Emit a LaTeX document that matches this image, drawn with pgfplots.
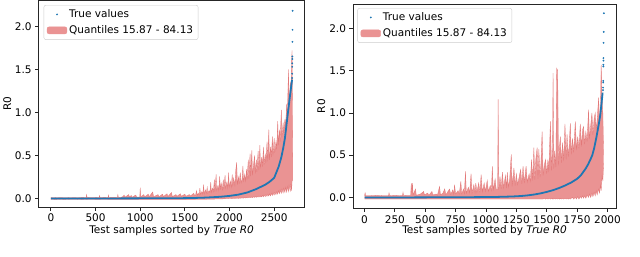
\documentclass[border=0pt]{standalone}
\usepackage{pgfplots}
\pgfplotsset{compat=1.18}
\usepackage{pgfplotstable}
\usepgfplotslibrary{fillbetween}
\usepackage{fontspec}
\setmainfont{DejaVu Sans}
\definecolor{tabblue}{RGB}{31,119,180}
\definecolor{band}{RGB}{234,147,147}
\definecolor{bandedge}{RGB}{226,120,120}
\definecolor{legframe}{RGB}{204,204,204}

% ---------- left panel: quantile band ----------
\pgfplotstableread{
x lo hi
0 -0.012 0.012
50 -0.010 0.010
100 -0.012 0.012
150 -0.010 0.011
200 -0.012 0.010
250 -0.011 0.012
300 -0.012 0.011
350 -0.010 0.013
395 -0.012 0.012
400 -0.012 0.045
405 -0.012 0.012
450 -0.011 0.014
500 -0.012 0.013
540 -0.012 0.012
545 -0.012 0.035
550 -0.012 0.013
600 -0.011 0.015
640 -0.012 0.013
645 -0.012 0.038
650 -0.012 0.014
700 -0.012 0.015
745 -0.012 0.014
750 -0.012 0.045
755 -0.012 0.014
800 -0.012 0.016
820 -0.012 0.040
830 -0.012 0.015
870 -0.012 0.045
880 -0.012 0.016
900 -0.012 0.035
910 -0.012 0.015
950 -0.012 0.040
960 -0.012 0.016
995 -0.012 0.016
1000 -0.012 0.125
1005 -0.012 0.018
1040 -0.012 0.045
1050 -0.012 0.018
1090 -0.012 0.050
1100 -0.012 0.020
1140 -0.012 0.075
1150 -0.012 0.020
1200 -0.012 0.045
1210 -0.012 0.020
1250 -0.012 0.050
1260 -0.012 0.022
1300 -0.012 0.055
1310 -0.012 0.022
1350 -0.012 0.070
1360 -0.012 0.022
1400 -0.012 0.045
1410 -0.012 0.024
1450 -0.012 0.055
1460 -0.012 0.025
1500 -0.012 0.050
1510 -0.012 0.026
1550 -0.012 0.045
1560 -0.012 0.028
1600 -0.012 0.060
1610 -0.012 0.030
1620 -0.010 0.04
1630 -0.010 0.09
1640 -0.010 0.035
1650 -0.010 0.06
1660 -0.010 0.04
1668 -0.010 0.12
1675 -0.010 0.045
1690 -0.010 0.08
1700 -0.010 0.05
1710 -0.010 0.16
1716 -0.010 0.05
1730 -0.010 0.10
1740 -0.010 0.06
1750 -0.008 0.13
1756 -0.008 0.06
1770 -0.008 0.09
1780 -0.008 0.07
1790 -0.008 0.19
1796 -0.008 0.07
1810 -0.008 0.12
1820 -0.008 0.08
1830 -0.008 0.22
1836 -0.006 0.08
1850 -0.006 0.28
1856 -0.006 0.09
1870 -0.006 0.15
1880 -0.006 0.09
1890 -0.006 0.26
1896 -0.005 0.10
1906 -0.005 0.18
1920 -0.005 0.10
1930 -0.004 0.22
1936 -0.004 0.11
1950 -0.004 0.27
1956 -0.003 0.12
1970 -0.003 0.19
1980 -0.002 0.12
1990 -0.002 0.30
1996 0.000 0.13
2010 0.000 0.20
2020 -0.002 0.13
2030 0.002 0.28
2036 0.000 0.14
2046 0.003 0.24
2060 0.000 0.15
2070 0.004 0.33
2080 0.002 0.42
2088 0.004 0.16
2100 0.000 0.25
2108 0.006 0.17
2120 0.002 0.30
2130 0.008 0.18
2140 0.003 0.22
2150 0.010 0.38
2156 0.004 0.19
2170 0.010 0.28
2180 0.005 0.20
2190 0.012 0.34
2196 0.006 0.22
2210 0.014 0.45
2216 0.008 0.23
2230 0.016 0.52
2236 0.010 0.26
2250 0.018 0.56
2256 0.010 0.27
2270 0.020 0.40
2280 0.012 0.50
2288 0.022 0.29
2300 0.012 0.45
2306 0.025 0.31
2320 0.015 0.55
2328 0.028 0.33
2340 0.016 0.62
2346 0.030 0.35
2360 0.018 0.48
2368 0.035 0.37
2380 0.020 0.60
2386 0.040 0.39
2400 0.022 0.52
2406 0.045 0.41
2420 0.025 0.66
2428 0.050 0.43
2440 0.028 0.80
2446 0.055 0.45
2460 0.030 0.60
2468 0.060 0.48
2480 0.035 0.72
2486 0.065 0.50
2500 0.040 0.70
2506 0.070 0.53
2520 0.045 0.66
2528 0.080 0.57
2540 0.050 0.90
2546 0.090 0.62
2560 0.055 0.80
2566 0.100 0.66
2580 0.060 1.03
2586 0.110 0.71
2600 0.065 0.88
2606 0.120 0.76
2620 0.070 0.92
2626 0.130 0.82
2640 0.075 1.10
2646 0.140 0.92
2660 0.080 1.50
2666 0.150 1.05
2680 0.085 1.35
2686 0.170 1.20
2695 0.090 1.60
2700 0.200 1.72
2708 0.220 0.48
}\leftband

% ---------- left panel: true values ----------
\pgfplotstableread{
x y
0 0.000
400 0.000
800 0.001
1200 0.002
1500 0.004
1600 0.006
1700 0.009
1800 0.014
1900 0.020
2000 0.030
2100 0.045
2200 0.070
2300 0.110
2400 0.160
2450 0.195
2500 0.240
2550 0.370
2580 0.480
2600 0.580
2620 0.700
2645 0.920
2660 1.050
2675 1.180
2690 1.300
2700 1.380
}\lefttrue

\pgfplotstableread{
x y
2700 1.40
2701 1.45
2702 1.53
2702 1.57
2703 1.62
2703 1.65
2704 1.82
2705 1.96
2706 2.18
}\lefttail

% ---------- right panel: quantile band ----------
\pgfplotstableread{
x lo hi
0 -0.02 0.02
5 -0.02 0.055
10 -0.02 0.02
50 -0.02 0.02
100 -0.02 0.025
150 -0.02 0.02
198 -0.02 0.02
202 -0.02 0.055
206 -0.02 0.02
250 -0.02 0.025
313 -0.02 0.02
317 -0.02 0.06
321 -0.02 0.022
350 -0.02 0.025
380 -0.02 0.025
385 -0.02 0.17
390 -0.02 0.05
395 -0.02 0.17
400 -0.02 0.03
420 -0.02 0.10
426 -0.02 0.025
460 -0.02 0.04
487 -0.02 0.07
493 -0.02 0.03
520 -0.02 0.05
530 -0.02 0.025
555 -0.02 0.07
562 -0.02 0.03
590 -0.02 0.04
600 -0.02 0.025
618 -0.02 0.13
625 -0.02 0.03
645 -0.02 0.05
660 -0.02 0.10
670 -0.02 0.03
700 -0.02 0.10
710 -0.02 0.035
727 -0.02 0.09
735 -0.02 0.035
741 -0.02 0.15
750 -0.02 0.04
770 -0.02 0.08
780 -0.02 0.04
793 -0.02 0.19
800 -0.02 0.04
815 -0.02 0.10
822 -0.02 0.045
831 -0.02 0.31
838 -0.02 0.05
855 -0.02 0.12
865 -0.02 0.05
877 -0.02 0.28
885 -0.02 0.05
900 -0.02 0.15
910 -0.02 0.055
916 -0.02 0.17
925 -0.02 0.06
940 -0.02 0.17
950 -0.02 0.06
960 -0.02 0.27
970 -0.02 0.065
985 -0.02 0.17
995 -0.02 0.07
1010 -0.02 0.20
1020 -0.02 0.07
1035 -0.02 0.14
1045 -0.02 0.08
1052 -0.02 0.37
1060 -0.02 0.08
1075 -0.02 0.22
1085 -0.02 0.09
1096 -0.02 0.09
1100 -0.02 1.16
1105 -0.02 0.09
1115 -0.02 0.25
1125 -0.02 0.10
1135 -0.02 0.30
1145 -0.02 0.11
1160 -0.02 0.26
1170 -0.02 0.11
1175 -0.02 0.30
1185 -0.02 0.12
1195 -0.02 0.22
1208 -0.02 0.51
1215 -0.02 0.13
1230 -0.02 0.35
1240 -0.02 0.14
1250 -0.02 0.28
1260 -0.02 0.15
1270 -0.02 0.22
1285 -0.02 0.33
1295 -0.02 0.16
1305 -0.02 0.37
1315 -0.02 0.17
1330 -0.02 0.37
1340 -0.02 0.18
1355 -0.02 0.28
1365 -0.02 0.19
1375 -0.02 0.45
1385 -0.02 0.20
1394 -0.02 0.59
1402 -0.02 0.21
1410 -0.02 0.45
1421 -0.02 0.59
1428 -0.02 0.22
1435 -0.02 0.57
1445 -0.02 0.24
1452 -0.02 0.40
1462 -0.02 0.78
1470 -0.02 0.26
1480 -0.01 0.38
1490 -0.02 0.45
1500 -0.01 0.28
1510 -0.02 0.45
1517 -0.01 0.30
1530 -0.02 0.90
1540 -0.01 0.32
1548 -0.02 0.60
1552 -0.01 1.47
1558 -0.02 0.34
1565 -0.01 0.55
1575 -0.02 0.36
1582 -0.01 1.53
1590 -0.02 1.50
1597 -0.01 0.38
1605 -0.02 0.60
1612 -0.01 0.72
1620 -0.02 0.41
1630 -0.01 0.65
1640 -0.02 0.43
1650 -0.01 0.87
1660 -0.02 0.45
1667 -0.01 0.75
1677 -0.02 0.48
1685 -0.01 0.62
1694 -0.02 0.88
1702 -0.01 0.51
1712 0.00 0.70
1722 -0.02 0.53
1735 0.00 0.90
1745 -0.02 0.56
1755 0.01 0.72
1765 -0.02 0.58
1776 0.01 0.87
1786 -0.01 0.60
1795 0.02 0.80
1803 -0.01 0.84
1812 0.02 0.63
1822 -0.01 0.78
1832 0.03 0.66
1844 0.00 1.04
1852 0.04 0.69
1862 0.00 0.85
1872 0.05 1.00
1880 0.01 0.74
1890 0.06 0.93
1899 0.02 1.00
1907 0.08 0.80
1915 0.03 0.92
1927 0.10 1.18
1935 0.05 0.88
1942 0.15 1.05
1948 0.08 1.57
1955 0.25 1.20
1962 0.20 1.00
1968 0.41 0.50
}\rightband

\pgfplotstableread{
x y
0 0.000
400 0.000
800 0.002
1000 0.004
1100 0.006
1200 0.010
1250 0.013
1300 0.018
1350 0.025
1400 0.035
1450 0.048
1500 0.065
1550 0.085
1600 0.110
1650 0.140
1700 0.175
1750 0.220
1780 0.260
1800 0.300
1820 0.340
1840 0.390
1860 0.450
1875 0.500
1890 0.580
1900 0.650
1910 0.720
1920 0.800
1930 0.880
1940 0.970
1950 1.100
1955 1.170
1960 1.240
}\righttrue

\pgfplotstableread{
x y
1963 1.27
1964 1.30
1965 1.36
1965 1.38
1966 1.55
1966 1.57
1967 1.62
1967 1.65
1968 1.83
1969 1.96
1970 2.18
}\righttail

\newcommand{\fnt}{\fontsize{10.6}{12}\selectfont}

\pgfplotsset{
  myax/.style={
    scale only axis,
    axis line style={line width=0.8bp, black!85},
    every tick/.style={line width=0.8bp, black!85},
    tick align=outside,
    major tick length=3.5bp,
    xtick pos=bottom, ytick pos=left,
    ytick={0,0.5,1,1.5,2},
    yticklabel style={/pgf/number format/fixed, /pgf/number format/fixed zerofill, /pgf/number format/precision=1},
    xticklabel style={/pgf/number format/1000 sep={}},
    /pgf/number format/assume math mode=true,
    tick label style={font=\fnt},
    label style={font=\fnt},
    ylabel={R0},
    xlabel={Test samples sorted by \textit{True R0}},
    legend cell align=left,
    legend style={anchor=north west, draw=legframe, rounded corners=2bp,
      font=\fnt, inner xsep=3bp, inner ysep=2.5bp, row sep=2.5bp},
  },
  dotleg/.style={legend image code/.code={\fill[##1] (10bp,0bp) circle (0.7bp);}},
  patchleg/.style={legend image code/.code={\fill[##1] (0bp,-3.5bp) rectangle (20bp,3.5bp);}},
}

\begin{document}
\begin{tikzpicture}

% ================= left panel =================
\begin{axis}[myax,
  at={(36bp,50bp)}, anchor=south west,
  width=267bp, height=207.5bp,
  xmin=-137, xmax=2839, ymin=-0.10, ymax=2.30,
  xtick={0,500,1000,1500,2000,2500},
  ylabel style={at={(axis description cs:-0.118,0.5)}, anchor=center},
  xlabel style={at={(axis description cs:0.5,-0.116)}, anchor=center},
  legend style={at={(0.019,0.978)}},
]
\addlegendimage{dotleg, tabblue}
\addlegendentry{True values}
\addlegendimage{patchleg, band}
\addlegendentry{Quantiles 15.87 - 84.13}

\addplot[name path=LU, bandedge, line width=0.3bp] table[x=x, y=hi]{\leftband};
\addplot[name path=LL, bandedge, line width=0.3bp] table[x=x, y=lo]{\leftband};
\addplot[band] fill between[of=LU and LL];
\addplot[tabblue, line width=1.8bp] table[x=x, y=y]{\lefttrue};
\addplot[only marks, mark=*, mark size=0.7bp, tabblue] table[x=x, y=y]{\lefttail};
\end{axis}

% ================= right panel =================
\begin{axis}[myax,
  at={(351.7bp,48.7bp)}, anchor=south west,
  width=264.3bp, height=205.3bp,
  xmin=-95, xmax=2071, ymin=-0.13, ymax=2.29,
  xtick={0,250,500,750,1000,1250,1500,1750,2000},
  ylabel style={at={(axis description cs:-0.12,0.5)}, anchor=center},
  xlabel style={at={(axis description cs:0.5,-0.11)}, anchor=center},
  legend style={at={(0.017,0.98)}},
]
\addlegendimage{dotleg, tabblue}
\addlegendentry{True values}
\addlegendimage{patchleg, band}
\addlegendentry{Quantiles 15.87 - 84.13}

\addplot[name path=RU, bandedge, line width=0.3bp] table[x=x, y=hi]{\rightband};
\addplot[name path=RL, bandedge, line width=0.3bp] table[x=x, y=lo]{\rightband};
\addplot[band] fill between[of=RU and RL];
\addplot[tabblue, line width=1.8bp] table[x=x, y=y]{\righttrue};
\addplot[only marks, mark=*, mark size=0.7bp, tabblue] table[x=x, y=y]{\righttail};
\end{axis}
\path (0,0) rectangle (640bp,258bp);
\end{tikzpicture}
\end{document}
